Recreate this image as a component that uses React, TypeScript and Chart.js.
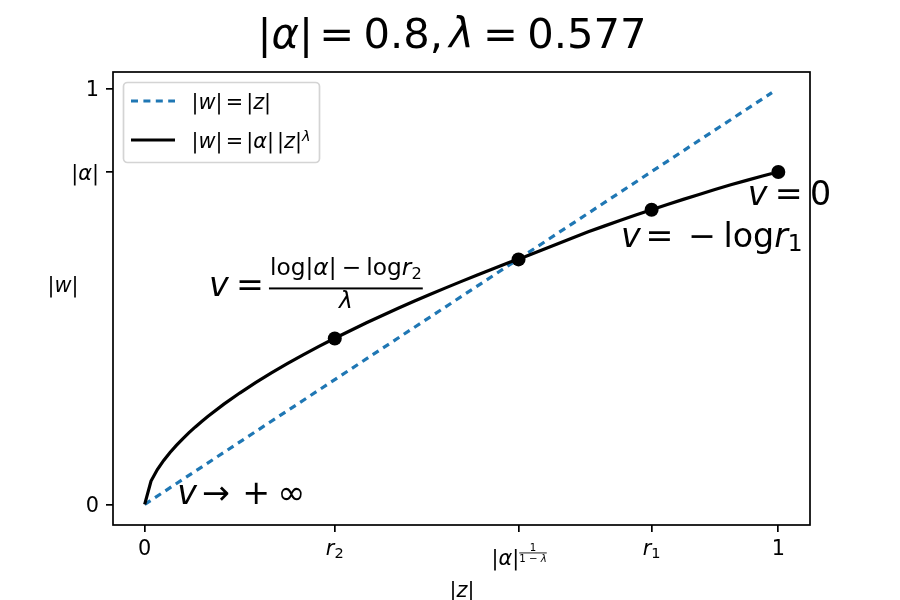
import { useEffect, useRef } from "react";
import { Chart, registerables, type Plugin } from "chart.js";

Chart.register(...registerables);

const FONT = '"DejaVu Sans"';

// values
const identityZ = [0, 0.99];
const identityW = [0, 0.99];
const curveZ = [
  0, 0.01, 0.02, 0.03, 0.04, 0.05, 0.06, 0.07, 0.08, 0.09, 0.1, 0.125, 0.15, 0.175, 0.2, 0.225, 0.25, 0.275, 0.3,
  0.325, 0.35, 0.375, 0.4, 0.425, 0.45, 0.475, 0.5, 0.525, 0.55, 0.575, 0.59, 0.6, 0.625, 0.65, 0.675, 0.7, 0.725,
  0.75, 0.775, 0.8, 0.825, 0.85, 0.875, 0.9, 0.925, 0.95, 0.975, 0.99,
];
const curveW = [
  0, 0.0561, 0.0838, 0.1058, 0.1249, 0.142, 0.1578, 0.1725, 0.1863, 0.1994, 0.2118, 0.241, 0.2677, 0.2927, 0.3161,
  0.3382, 0.3595, 0.3798, 0.3994, 0.4182, 0.4366, 0.4542, 0.4715, 0.4882, 0.5046, 0.5206, 0.5362, 0.5516, 0.5666,
  0.5813, 0.59, 0.5955, 0.6105, 0.6255, 0.6405, 0.6553, 0.669, 0.6825, 0.6958, 0.7085, 0.721, 0.7333, 0.7452, 0.757,
  0.7683, 0.779, 0.7895, 0.7955,
];
const dotZ = [0.3, 0.59, 0.8, 1];
const dotW = [0.399, 0.589, 0.7085, 0.799];

const xTicks = [0, 0.3, 0.59, 0.8, 1];
const xTickLabels = ["0", "*r*_2", "|*α*|^{1|1 − *λ*}", "*r*_1", "1"];
const yTicks = [0, 0.8, 1];
const yTickLabels = ["0", "|*α*|", "1"];

const titleText = "|*α*|`=~0.8,`*λ*~=~0.577";
const xLabel = "|*z*|";
const yLabel = "|*w*|";
const legendLabels = ["|*w*|`=`|*z*|", "|*w*|`=`|*α*|`|*z*|^λ"];

const noteX = [0.05, 0.95, 0.75, 0.1];
const noteY = [0, 0.72, 0.62, 0.5];
const noteText = [
  "*v*`→~`+~∞",
  "*v*~=~0",
  "*v*`=~~−~log*r*_1",
  "*v*~=`{log|*α*|~−~log*r*_2|*λ*}",
];

// tiny mathtext: *italic*, _sub, ^sup, ~ and ` gaps, {num|den}, ^{num|den}
function mathText(ctx: CanvasRenderingContext2D, src: string, x: number, y: number, size: number, draw = true): number {
  const re = /\^\{([^|}]*)\|([^}]*)\}|\{([^}]*)\|([^}]*)\}|\*([^*]+)\*|_(.)|\^(.)|~|`|[^*_^~`{]+/gu;
  let cx = x;
  const put = (t: string, italic: boolean, s: number, dy: number) => {
    ctx.font = `${italic ? "italic " : ""}${s}px ${FONT}`;
    if (draw) ctx.fillText(t, cx, y + dy);
    cx += ctx.measureText(t).width;
  };
  const frac = (num: string, den: string, s: number, up: number, down: number, bar: number, pad: number) => {
    const nw = mathText(ctx, num, 0, 0, s, false);
    const dw = mathText(ctx, den, 0, 0, s, false);
    const w = Math.max(nw, dw) + pad * 2;
    if (draw) {
      mathText(ctx, num, cx + (w - nw) / 2, y - up, s);
      mathText(ctx, den, cx + (w - dw) / 2, y + down, s);
      const t = Math.max(0.8, s * 0.085);
      ctx.fillRect(cx, y - bar - t / 2, w, t);
    }
    cx += w;
  };
  for (const m of src.matchAll(re)) {
    const tok = m[0];
    if (m[1] !== undefined) frac(m[1], m[2], size * 0.49, size * 0.68, -size * 0.14, size * 0.58, 0);
    else if (m[3] !== undefined) frac(m[3], m[4], size * 0.7, size * 0.63, size * 0.36, size * 0.24, 1);
    else if (m[5] !== undefined) put(m[5], true, size, 0);
    else if (m[6] !== undefined) put(m[6], false, size * 0.7, size * 0.15);
    else if (m[7] !== undefined) put(m[7], /\p{L}/u.test(m[7]), size * 0.7, -size * 0.36);
    else if (tok === "~") cx += size * 0.22;
    else if (tok === "`") cx += size * 0.15;
    else put(tok, false, size, 0);
  }
  return cx - x;
}

const paperPlugin: Plugin<"scatter"> = {
  id: "paper",
  afterDraw(chart) {
    const { ctx, chartArea: a, scales } = chart;
    const xs = scales.x;
    const ys = scales.y;
    ctx.save();
    ctx.fillStyle = "#000";
    ctx.textBaseline = "alphabetic";
    ctx.textAlign = "left";

    // frame
    ctx.strokeStyle = "#000";
    ctx.lineWidth = 1.7;
    ctx.strokeRect(a.left, a.top, a.right - a.left, a.bottom - a.top);

    const centered = (src: string, cx: number, y: number, size: number) => {
      const w = mathText(ctx, src, 0, 0, size, false);
      mathText(ctx, src, cx - w / 2, y, size);
    };

    centered(titleText, 452, 48, 41.7);
    centered(xLabel, 462, 597, 20.8);
    centered(yLabel, 63, 292, 20.8);

    xTicks.forEach((v, i) => {
      const px = xs.getPixelForValue(v);
      if (v === 0.59) mathText(ctx, xTickLabels[i], px - 27, 565, 20.8);
      else centered(xTickLabels[i], px, 555, 20.8);
    });
    yTicks.forEach((v, i) => {
      const w = mathText(ctx, yTickLabels[i], 0, 0, 20.8, false);
      mathText(ctx, yTickLabels[i], 99 - w, ys.getPixelForValue(v) + 8, 20.8);
    });

    noteText.forEach((t, i) => {
      mathText(ctx, t, xs.getPixelForValue(noteX[i]) + 1, ys.getPixelForValue(noteY[i]), 33.3);
    });

    // legend
    ctx.beginPath();
    ctx.roundRect(123.5, 82.5, 196, 80, 4);
    ctx.fillStyle = "rgba(255,255,255,0.8)";
    ctx.fill();
    ctx.strokeStyle = "#d4d4d4";
    ctx.lineWidth = 1.7;
    ctx.stroke();

    ctx.lineWidth = 3.2;
    ctx.strokeStyle = "#1f77b4";
    ctx.setLineDash([7, 5.4]);
    ctx.beginPath();
    ctx.moveTo(131, 101);
    ctx.lineTo(175, 101);
    ctx.stroke();
    ctx.setLineDash([]);
    ctx.strokeStyle = "#000";
    ctx.beginPath();
    ctx.moveTo(131, 140);
    ctx.lineTo(175, 140);
    ctx.stroke();
    ctx.fillStyle = "#000";
    mathText(ctx, legendLabels[0], 191.5, 109, 20.8);
    mathText(ctx, legendLabels[1], 191.5, 148, 20.8);
    ctx.restore();
  },
};

export default function App() {
  const ref = useRef<HTMLCanvasElement | null>(null);

  useEffect(() => {
    const el = ref.current;
    if (!el) return;

    const chart = new Chart(el, {
      type: "scatter",
      data: {
        datasets: [
          {
            label: "dots",
            data: dotZ.map((x, i) => ({ x, y: dotW[i] })),
            backgroundColor: "#000",
            borderColor: "#000",
            pointRadius: 7,
            pointBorderWidth: 0,
            order: 0,
          },
          {
            label: "curve",
            data: curveZ.map((x, i) => ({ x, y: curveW[i] })),
            showLine: true,
            borderColor: "#000",
            borderWidth: 3.2,
            pointRadius: 0,
            order: 1,
          },
          {
            label: "identity",
            data: identityZ.map((x, i) => ({ x, y: identityW[i] })),
            showLine: true,
            borderColor: "#1f77b4",
            borderWidth: 3.2,
            borderDash: [7, 5.4],
            pointRadius: 0,
            order: 2,
          },
        ],
      },
      options: {
        animation: false,
        responsive: false,
        devicePixelRatio: 1,
        layout: { padding: { left: 113, top: 72, right: 90, bottom: 75 } },
        plugins: { legend: { display: false }, title: { display: false }, tooltip: { enabled: false } },
        scales: {
          x: {
            type: "linear",
            min: -0.05,
            max: 1.05,
            afterFit: (s) => { s.height = 0; },
            afterBuildTicks: (s) => { s.ticks = xTicks.map((value) => ({ value })); },
            ticks: { display: false },
            border: { display: false },
            grid: { drawOnChartArea: false, drawTicks: true, tickLength: 7, lineWidth: 1.7, color: "#000" },
          },
          y: {
            type: "linear",
            min: -0.0495,
            max: 1.0395,
            afterFit: (s) => { s.width = 0; },
            afterBuildTicks: (s) => { s.ticks = yTicks.map((value) => ({ value })); },
            ticks: { display: false },
            border: { display: false },
            grid: { drawOnChartArea: false, drawTicks: true, tickLength: 7, lineWidth: 1.7, color: "#000" },
          },
        },
      },
      plugins: [paperPlugin],
    });

    return () => chart.destroy();
  }, []);

  return (
    <div style={{ position: "fixed", left: 0, top: 0, width: 900, height: 600, background: "#fff" }}>
      <canvas ref={ref} width={900} height={600} style={{ display: "block" }} />
    </div>
  );
}
